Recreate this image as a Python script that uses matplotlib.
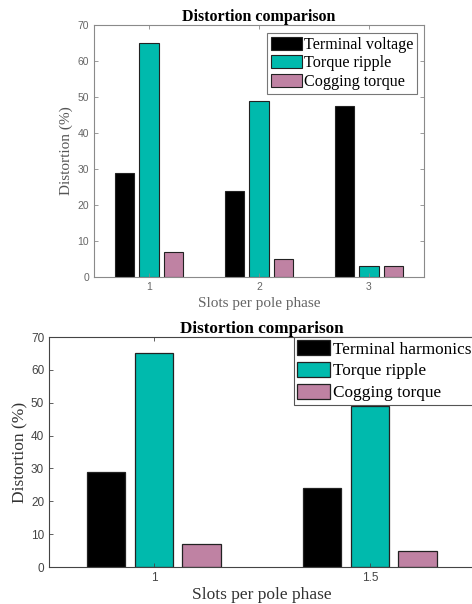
import matplotlib
matplotlib.use('Agg')
import numpy as np, matplotlib.pyplot as plt

# top chart data
top_x = [1, 2, 3]
top_terminal = [29, 23.8, 47.5]
top_ripple = [65, 49, 3]
top_cogging = [7, 5, 3]
top_labels = ['Terminal voltage', 'Torque ripple', 'Cogging torque']

# bottom chart data (only two groups visible)
bot_x = [1, 1.5]
bot_terminal = [29, 24]
bot_ripple = [65, 49]
bot_cogging = [7, 5]
bot_labels = ['Terminal harmonics', 'Torque ripple', 'Cogging torque']

colors = ['#000000', '#00BAAD', '#BF82A3']
W, H = 472, 604
serif = ['Liberation Serif', 'DejaVu Serif']
sans = ['Liberation Sans', 'DejaVu Sans']

fig = plt.figure(figsize=(W/100, H/100), dpi=100)
fig.patch.set_facecolor('white')

def px_axes(l, t, r, b):
    return fig.add_axes([l/W, 1 - b/H, (r-l)/W, (b-t)/H])

def style(ax, spine_col, tick_col, tsize):
    for s in ax.spines.values():
        s.set_color(spine_col); s.set_linewidth(0.8)
    ax.tick_params(direction='in', length=3, width=0.6, color=spine_col,
                   top=True, right=True, labelcolor=tick_col, labelsize=tsize)
    for lb in ax.get_xticklabels() + ax.get_yticklabels():
        lb.set_family(sans)

# ---- top chart ----
ax1 = px_axes(94, 25, 424, 277)
x = np.array(top_x, dtype=float)
w, off = 0.18, 0.222
for i, vals in enumerate([top_terminal, top_ripple, top_cogging]):
    ax1.bar(x + (i-1)*off, vals, w, color=colors[i], edgecolor='#222222',
            linewidth=0.8, label=top_labels[i])
ax1.set_xlim(0.5, 3.5); ax1.set_ylim(0, 70)
ax1.set_xticks(top_x); ax1.set_yticks(range(0, 71, 10))
style(ax1, '#8a8a8a', '#666666', 7.5)
ax1.set_title('Distortion comparison', family=serif, fontsize=11.5,
              fontweight='bold', pad=3)
ax1.set_ylabel('Distortion (%)', family=serif, fontsize=11, color='#555555', labelpad=3)
ax1.set_xlabel('Slots per pole phase', family=serif, fontsize=11, color='#666666', labelpad=4)
leg1 = ax1.legend(loc='upper left', bbox_to_anchor=(267/W, 1 - 33/H),
                  bbox_transform=fig.transFigure, prop={'family': serif, 'size': 11.6},
                  fancybox=False, edgecolor='#777777', framealpha=1,
                  handlelength=1.9, handleheight=0.85, labelspacing=0.15,
                  handletextpad=0.15, borderpad=0.25, borderaxespad=0)
leg1.get_frame().set_linewidth(0.8)

# ---- bottom chart ----
ax2 = px_axes(49, 337, 700, 567)
x = np.array(bot_x, dtype=float)
w, off = 0.09, 0.111
for i, vals in enumerate([bot_terminal, bot_ripple, bot_cogging]):
    ax2.bar(x + (i-1)*off, vals, w, color=colors[i], edgecolor='#222222',
            linewidth=0.9, label=bot_labels[i])
ax2.set_xlim(0.757, 0.757 + 651/432); ax2.set_ylim(0, 70)
ax2.set_xticks(bot_x); ax2.set_xticklabels(['1', '1.5'])
ax2.set_yticks(range(0, 71, 10))
style(ax2, '#444444', '#444444', 8.5)
ax2.set_title('Distortion comparison', family=serif, fontsize=12.3,
              fontweight='bold', pad=3, x=(262-49)/651)
ax2.set_ylabel('Distortion (%)', family=serif, fontsize=12.5, color='#333333', labelpad=2)
ax2.set_xlabel('Slots per pole phase', family=serif, fontsize=12.5, color='#333333',
               labelpad=2, x=(262-49)/651)
leg2 = ax2.legend(loc='upper left', bbox_to_anchor=(294/W, 1 - 337/H),
                  bbox_transform=fig.transFigure, prop={'family': serif, 'size': 12.4},
                  fancybox=False, edgecolor='#555555', framealpha=1,
                  handlelength=1.9, handleheight=0.9, labelspacing=0.28,
                  handletextpad=0.15, borderpad=0.2, borderaxespad=0)
leg2.get_frame().set_linewidth(0.8)

plt.savefig('out.png', dpi=100)
plt.close()
